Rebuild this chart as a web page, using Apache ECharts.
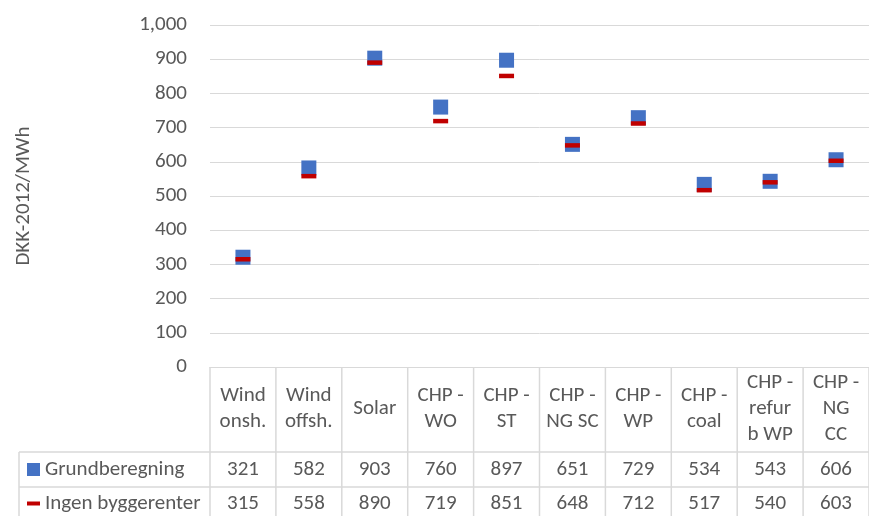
<!DOCTYPE html>
<html>
<head>
<meta charset="utf-8">
<script src="https://cdn.jsdelivr.net/npm/echarts@6/dist/echarts.min.js"></script>
<style>
  html, body { margin: 0; padding: 0; background: #fff; }
  #chart { width: 869px; height: 516px; }
</style>
</head>
<body>
<div id="chart"></div>
<script>
// Levelised cost per technology, DKK-2012/MWh
const categories = [
  'Wind\nonsh.', 'Wind\noffsh.', 'Solar', 'CHP -\nWO', 'CHP -\nST',
  'CHP -\nNG SC', 'CHP -\nWP', 'CHP -\ncoal', 'CHP -\nrefur\nb WP', 'CHP -\nNG\nCC'
];
const seriesNames = ['Grundberegning', 'Ingen byggerenter'];
const grundberegning = [321, 582, 903, 760, 897, 651, 729, 534, 543, 606];
const ingenByggerenter = [315, 558, 890, 719, 851, 648, 712, 517, 540, 603];
const yTicks = [0, 100, 200, 300, 400, 500, 600, 700, 800, 900, 1000];

const FONT = 'Carlito, Lato, "Liberation Sans", sans-serif';
const TEXT = '#595959';
const LINE = '#D9D9D9';
const FS = 21;

const plotTop = 25, plotH = 342, plotLeft = 210, colW = 66.6;
const plotBottom = plotTop + plotH;
const headerBottom = 452, row1Bottom = 487;
const headerMid = 409;
const row1Mid = (headerBottom + row1Bottom) / 2;
const row2Mid = 503.5;

const chart = echarts.init(document.getElementById('chart'), null, { renderer: 'canvas' });

const hiddenAxis = {
  type: 'category',
  gridIndex: 0,
  position: 'bottom',
  axisLine: { show: false },
  axisTick: { show: false },
  splitLine: { show: false }
};
const rowLabel = { interval: 0, margin: 0, verticalAlign: 'middle', fontFamily: FONT, fontSize: FS, color: TEXT };

chart.setOption({
  animation: false,
  textStyle: { fontFamily: FONT, color: TEXT },
  grid: { left: plotLeft, top: plotTop, width: colW * categories.length, height: plotH, containLabel: false },
  legend: [
    {
      data: [seriesNames[0]], left: 27, top: row1Mid - 12, padding: 0,
      itemWidth: 13, itemHeight: 13, itemGap: 0, selectedMode: false,
      textStyle: { fontFamily: FONT, fontSize: FS, color: TEXT, lineHeight: 24 }
    },
    {
      data: [seriesNames[1]], left: 27, top: row2Mid - 12, padding: 0,
      itemWidth: 13, itemHeight: 4, itemGap: 0, selectedMode: false,
      textStyle: { fontFamily: FONT, fontSize: FS, color: TEXT, lineHeight: 24 }
    }
  ],
  xAxis: [
    {
      type: 'category',
      data: categories,
      boundaryGap: true,
      axisLine: { show: true, lineStyle: { color: LINE, width: 1 } },
      axisTick: { show: false },
      axisLabel: {
        interval: 0, margin: headerMid - plotBottom, verticalAlign: 'middle', lineHeight: 26,
        fontFamily: FONT, fontSize: FS, color: TEXT
      }
    },
    Object.assign({}, hiddenAxis, {
      data: grundberegning.map(String), offset: row1Mid - plotBottom, axisLabel: rowLabel
    }),
    Object.assign({}, hiddenAxis, {
      data: ingenByggerenter.map(String), offset: row2Mid - plotBottom, axisLabel: rowLabel
    })
  ],
  yAxis: {
    type: 'value',
    min: yTicks[0], max: yTicks[yTicks.length - 1], interval: yTicks[1] - yTicks[0],
    name: 'DKK-2012/MWh', nameLocation: 'middle', nameRotate: 90, nameGap: 176,
    nameTextStyle: { fontFamily: FONT, fontSize: FS, color: TEXT },
    axisLine: { show: false },
    axisTick: { show: false },
    axisLabel: {
      margin: 23, fontFamily: FONT, fontSize: FS, color: TEXT,
      formatter: v => v.toLocaleString('en-US')
    },
    splitLine: { show: true, lineStyle: { color: LINE, width: 1 } }
  },
  series: [
    {
      name: seriesNames[0], type: 'scatter', data: grundberegning,
      symbol: 'rect', symbolSize: [15, 15],
      itemStyle: { color: '#4472C4', opacity: 1 }, z: 2
    },
    {
      name: seriesNames[1], type: 'scatter', data: ingenByggerenter,
      symbol: 'rect', symbolSize: [15, 4.5],
      itemStyle: { color: '#C00000', opacity: 1 }, z: 3
    }
  ]
});

// Data-table grid lines, placed from the category axis scale
function drawTable() {
  const first = chart.convertToPixel({ xAxisIndex: 0 }, categories[0]);
  const second = chart.convertToPixel({ xAxisIndex: 0 }, categories[1]);
  const band = second - first;
  const W = chart.getWidth();
  const H = chart.getHeight();
  const els = [];
  const line = (x1, y1, x2, y2) => els.push({
    type: 'line', silent: true,
    shape: { x1, y1, x2, y2 },
    style: { stroke: LINE, lineWidth: 1.5 }
  });
  for (let i = 0; i <= categories.length; i++) {
    const x = first - band / 2 + i * band;
    line(x, plotBottom, x, H + 2);
  }
  line(19, headerBottom, W + 10, headerBottom);
  line(19, row1Bottom, W + 10, row1Bottom);
  line(19, headerBottom, 19, H + 2);
  chart.setOption({ graphic: els });
}
drawTable();
</script>
</body>
</html>
